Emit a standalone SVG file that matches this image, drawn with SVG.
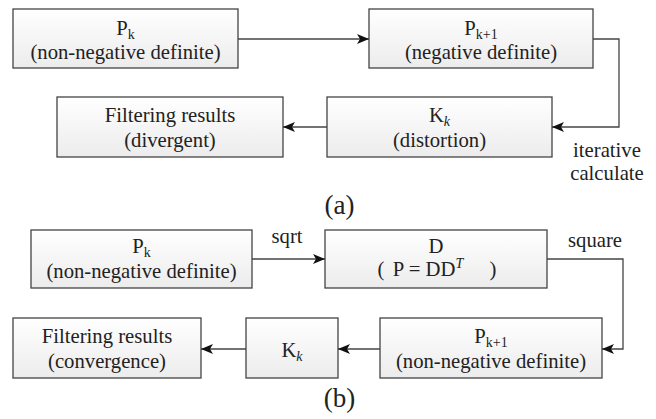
<svg xmlns="http://www.w3.org/2000/svg" width="656" height="419" viewBox="0 0 656 419" font-family="Liberation Serif, DejaVu Serif, serif">
<defs>
<linearGradient id="g" x1="0" y1="0" x2="0" y2="1">
<stop offset="0" stop-color="#ffffff"/>
<stop offset="1" stop-color="#ececec"/>
</linearGradient>
<marker id="ah" viewBox="0 0 12 10" refX="12" refY="5" markerWidth="12" markerHeight="10" markerUnits="userSpaceOnUse" orient="auto">
<path d="M0,0 L12,5 L0,10 L3,5 Z" fill="#111"/>
</marker>
<style>
.box{fill:url(#g);stroke:#444;stroke-width:1.3}
.t{font-family:Liberation Serif, DejaVu Serif, serif;font-size:20.7px;fill:#222;text-anchor:middle}
.s{font-size:14px}
.i{font-style:italic}
.cap{font-size:27px}
.c{fill:none;stroke:#444;stroke-width:1.3;marker-end:url(#ah)}
</style>
</defs>

<g id="a-pk">
<rect class="box" x="13" y="9" width="225" height="59"/>
<text class="t" x="125.5" y="35">P<tspan class="s" dy="4">k</tspan></text>
<text class="t" x="125.5" y="59">(non-negative definite)</text>
</g>
<g id="a-pk1">
<rect class="box" x="369" y="9" width="224" height="59"/>
<text class="t" x="481" y="35">P<tspan class="s" dy="4">k+1</tspan></text>
<text class="t" x="481" y="59">(negative definite)</text>
</g>
<g id="a-kk">
<rect class="box" x="327" y="97" width="225" height="60"/>
<text class="t" x="439.5" y="122">K<tspan class="s i" dy="4">k</tspan></text>
<text class="t" x="439.5" y="147">(distortion)</text>
</g>
<g id="a-filter">
<rect class="box" x="57" y="97" width="226" height="60"/>
<text class="t" x="170" y="122">Filtering results</text>
<text class="t" x="170" y="147">(divergent)</text>
</g>

<g id="b-pk">
<rect class="box" x="31" y="230" width="221" height="58"/>
<text class="t" x="141.5" y="253">P<tspan class="s" dy="4">k</tspan></text>
<text class="t" x="141.5" y="278">(non-negative definite)</text>
</g>
<g id="b-d">
<rect class="box" x="325" y="230" width="222" height="58"/>
<text class="t" x="436" y="253">D</text>
<text class="t" y="276"><tspan x="381">(</tspan><tspan x="428">P = DD</tspan><tspan class="s i" dy="-8">T</tspan><tspan x="493" dy="8">)</tspan></text>
</g>
<g id="b-pk1">
<rect class="box" x="380" y="318" width="222" height="60"/>
<text class="t" x="491" y="343">P<tspan class="s" dy="4">k+1</tspan></text>
<text class="t" x="491" y="368">(non-negative definite)</text>
</g>
<g id="b-kk">
<rect class="box" x="246" y="318" width="92" height="60"/>
<text class="t" x="292" y="357">K<tspan class="s i" dy="4">k</tspan></text>
</g>
<g id="b-filter">
<rect class="box" x="13" y="318" width="188" height="60"/>
<text class="t" x="107" y="343">Filtering results</text>
<text class="t" x="107" y="368">(convergence)</text>
</g>

<g id="connectors">
<path class="c" d="M238,39 H369"/>
<path class="c" d="M593,39 H619 V127 H552"/>
<path class="c" d="M327,127 H283"/>
<path class="c" d="M252,259 H325"/>
<path class="c" d="M547,259 H623 V349 H602"/>
<path class="c" d="M380,349 H338"/>
<path class="c" d="M246,349 H201"/>
</g>

<g id="labels">
<text class="t" x="607" y="157">iterative</text>
<text class="t" x="607" y="180">calculate</text>
<text class="t" x="287" y="243">sqrt</text>
<text class="t" x="595" y="247">square</text>
<text class="t cap" x="339.5" y="214">(a)</text>
<text class="t cap" x="339.5" y="407">(b)</text>
</g>
</svg>
